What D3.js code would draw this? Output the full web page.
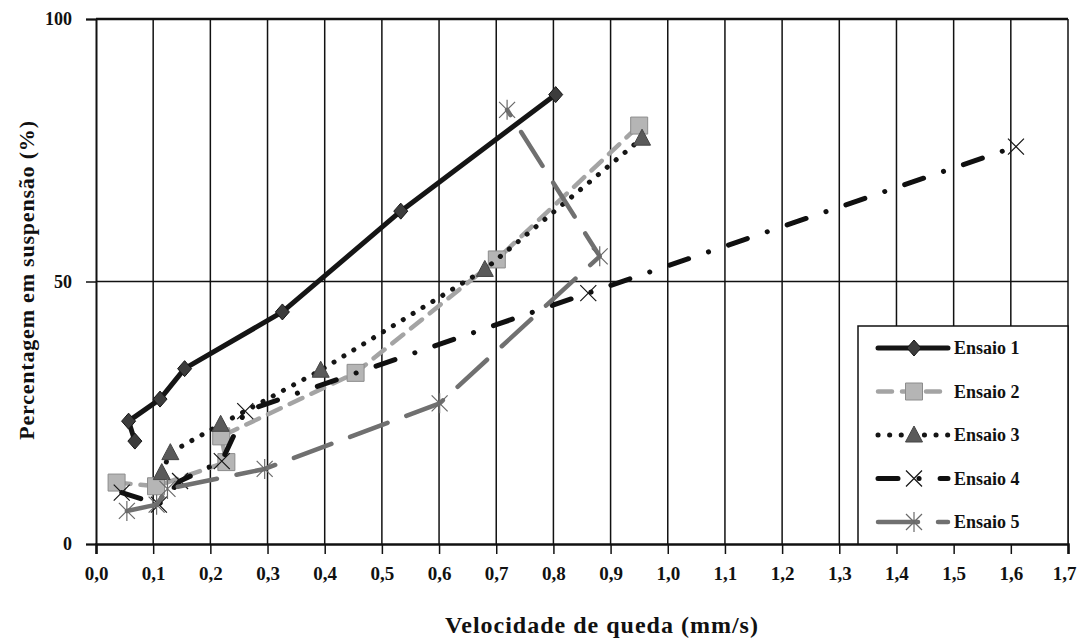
<!DOCTYPE html>
<html>
<head>
<meta charset="utf-8">
<script src="https://cdn.jsdelivr.net/npm/d3@7"></script>
<style>
  body { margin: 0; background: #fff; }
  svg { display: block; font-family: "Liberation Serif", "Times New Roman", serif; }
</style>
</head>
<body>
<svg id="chart" width="1078" height="641"></svg>
<script>
// values: [velocidade (mm/s), percentagem (%)]
const ensaio1 = [[0.068, 19.6], [0.057, 23.4], [0.112, 27.6], [0.155, 33.4], [0.326, 44.2], [0.533, 63.4], [0.804, 85.6]]
const ensaio2 = [[0.036, 11.7], [0.105, 11.0], [0.228, 15.6], [0.219, 20.5], [0.454, 32.6], [0.701, 54.2], [0.950, 79.7]]
const ensaio3 = [[0.115, 13.6], [0.130, 17.4], [0.218, 22.8], [0.393, 33.1], [0.680, 52.3], [0.955, 77.3]]
const ensaio4 = [[0.045, 9.8], [0.110, 7.5], [0.147, 12.0], [0.220, 15.8], [0.261, 25.3], [0.861, 47.8], [1.609, 75.7]]
const ensaio5 = [[0.054, 6.3], [0.106, 7.5], [0.125, 10.5], [0.295, 14.3], [0.601, 26.8], [0.881, 54.8], [0.719, 82.7]]

const seriesNames = ["Ensaio 1", "Ensaio 2", "Ensaio 3", "Ensaio 4", "Ensaio 5"]
const xTicks = [0, 0.1, 0.2, 0.3, 0.4, 0.5, 0.6, 0.7, 0.8, 0.9, 1.0, 1.1, 1.2, 1.3, 1.4, 1.5, 1.6, 1.7]
const yTicks = [0, 50, 100]

const xTitle = "Velocidade de queda (mm/s)"
const yTitle = "Percentagem em suspensão (%)"

// look of each series (line + marker)
const styles = [
    { stroke: "#151515", width: 5, dash: null, marker: "diamond", fill: "#3c3c3c", mstroke: "#151515" },
    { stroke: "#a4a4a4", width: 4.5, dash: "14,10", marker: "square", fill: "#b5b5b5", mstroke: "#8c8c8c" },
    { stroke: "#151515", width: 5, dash: "0.1,11.5", marker: "triangle", fill: "#5a5a5a", mstroke: "#444" },
    { stroke: "#101010", width: 5, dash: "20,21,0.1,21", marker: "cross", fill: "none", mstroke: "#151515" },
    { stroke: "#707070", width: 4.5, dash: "40,20", marker: "star", fill: "none", mstroke: "#6a6a6a" }
]

const svg = d3.select("#chart")

const xScale = d3.scaleLinear().domain([0, 1.7]).range([96, 1068])
const yScale = d3.scaleLinear().domain([0, 100]).range([544, 19])

// grid
const grid = svg.append("g")
grid.selectAll("line.v")
    .data(xTicks.slice(1))
    .enter()
    .append("line")
        .attr("x1", d => xScale(d))
        .attr("x2", d => xScale(d))
        .attr("y1", yScale(100))
        .attr("y2", yScale(0))
        .attr("stroke", "#111")
        .attr("stroke-width", 1.5)

grid.selectAll("line.h")
    .data(yTicks.slice(1))
    .enter()
    .append("line")
        .attr("x1", xScale(0))
        .attr("x2", xScale(1.7))
        .attr("y1", d => yScale(d))
        .attr("y2", d => yScale(d))
        .attr("stroke", "#111")
        .attr("stroke-width", d => d == 100 ? 2.5 : 1.5)

// axes
const xAxis = svg.append("g")
    .attr("transform", `translate(0,${yScale(0)})`)
    .call(d3.axisBottom(xScale)
        .tickValues(xTicks)
        .tickSize(10)
        .tickPadding(13)
        .tickFormat(d => d3.format(".1f")(d).replace(".", ",")))
xAxis.select(".domain").attr("stroke", "#111").attr("stroke-width", 2.5)
xAxis.selectAll(".tick line").attr("stroke", "#111").attr("stroke-width", 1.5)
xAxis.selectAll("text")
    .attr("fill", "#111")
    .attr("font-size", "19px")
    .attr("font-weight", "bold")
    .attr("font-family", "Liberation Serif, serif")
// last label sits on the page edge, nudge it in
xAxis.selectAll(".tick text")
    .filter(d => d == 1.7)
    .attr("dx", -4)

const yAxis = svg.append("g")
    .attr("transform", `translate(${xScale(0)},0)`)
    .call(d3.axisLeft(yScale)
        .tickValues(yTicks)
        .tickSize(10)
        .tickPadding(14))
yAxis.select(".domain").attr("stroke", "#111").attr("stroke-width", 2)
yAxis.selectAll(".tick line").attr("stroke", "#111").attr("stroke-width", 1.5)
yAxis.selectAll("text")
    .attr("fill", "#111")
    .attr("font-size", "18px")
    .attr("font-weight", "bold")
    .attr("font-family", "Liberation Serif, serif")

// titles
svg.append("text")
    .attr("x", 602)
    .attr("y", 633)
    .attr("text-anchor", "middle")
    .attr("font-size", "24px")
    .attr("font-weight", "bold")
    .attr("letter-spacing", "1px")
    .attr("fill", "#111")
    .text(xTitle)

svg.append("text")
    .attr("transform", "translate(34,280) rotate(-90)")
    .attr("text-anchor", "middle")
    .attr("font-size", "22px")
    .attr("font-weight", "bold")
    .attr("letter-spacing", "0.8px")
    .attr("fill", "#111")
    .text(yTitle)

// marker shapes
function markerPath(type) {
    if (type == "diamond") return "M0,-8L7,0L0,8L-7,0Z"
    if (type == "square") return "M-8.5,-8.5H8.5V8.5H-8.5Z"
    if (type == "triangle") return "M0,-9L8.5,7H-8.5Z"
    if (type == "cross") return "M-8,-8L8,8M-8,8L8,-8"
    return "M-8,-8L8,8M-8,8L8,-8M0,-10V10"
}

function drawMarker(g, x, y, st) {
    g.append("path")
        .attr("transform", `translate(${x},${y})`)
        .attr("d", markerPath(st.marker))
        .attr("fill", st.fill)
        .attr("stroke", st.mstroke)
        .attr("stroke-width", st.fill == "none" ? 1.2 : 1)
}

const line = d3.line()
    .x(d => xScale(d[0]))
    .y(d => yScale(d[1]))

const allSeries = [ensaio1, ensaio2, ensaio3, ensaio4, ensaio5]

allSeries.forEach((data, i) => {
    const st = styles[i]
    const g = svg.append("g")
    g.append("path")
        .datum(data)
        .attr("d", line)
        .attr("fill", "none")
        .attr("stroke", st.stroke)
        .attr("stroke-width", st.width)
        .attr("stroke-linecap", "round")
        .attr("stroke-linejoin", "round")
        .attr("stroke-dasharray", st.dash)
    data.forEach(d => drawMarker(g, xScale(d[0]), yScale(d[1]), st))
})

// legend
const legend = svg.append("g")
legend.append("rect")
    .attr("x", 858)
    .attr("y", 326)
    .attr("width", 1068 - 858)
    .attr("height", 544 - 326)
    .attr("fill", "#fff")
    .attr("stroke", "#111")
    .attr("stroke-width", 1.5)

const rowScale = d3.scaleLinear().domain([0, 4]).range([348, 522])

seriesNames.forEach((name, i) => {
    const st = styles[i]
    const ry = rowScale(i)
    legend.append("line")
        .attr("x1", 878)
        .attr("x2", 948)
        .attr("y1", ry)
        .attr("y2", ry)
        .attr("stroke", st.stroke)
        .attr("stroke-width", st.width)
        .attr("stroke-linecap", "round")
        .attr("stroke-dasharray", st.dash)
    drawMarker(legend, 914, ry, st)
    legend.append("text")
        .attr("x", 954)
        .attr("y", ry + 6)
        .attr("font-size", "18px")
        .attr("font-weight", "bold")
        .attr("fill", "#111")
        .text(name)
})
</script>
</body>
</html>
